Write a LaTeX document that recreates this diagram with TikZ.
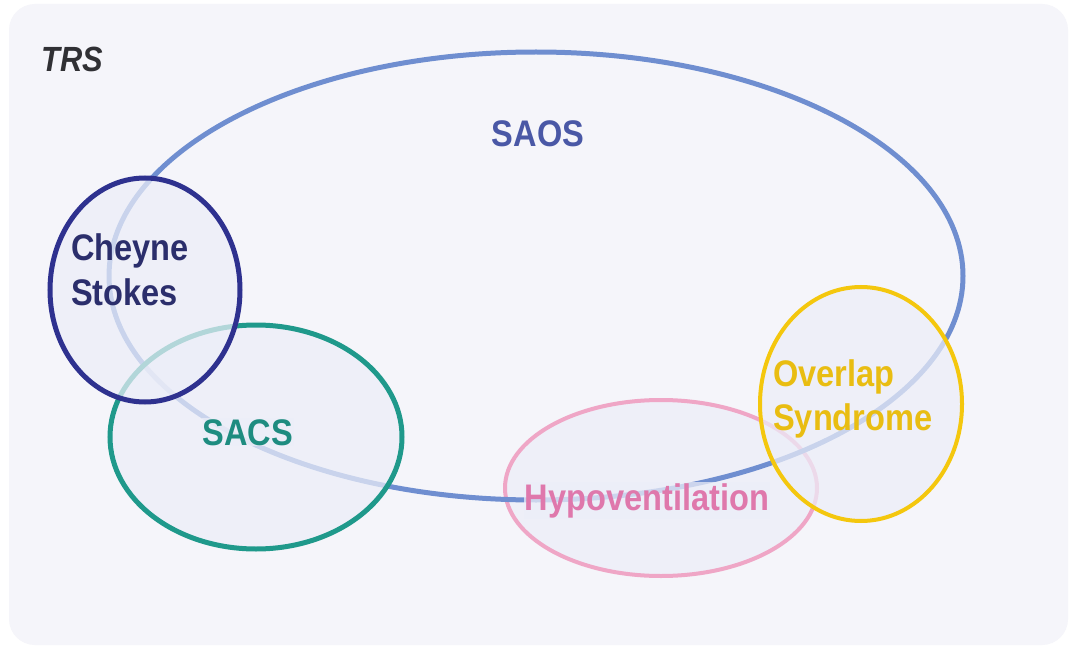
\documentclass[tikz,border=0pt]{standalone}
\usepackage{fontspec}
\setmainfont{Liberation Sans}[FakeStretch=0.88]
\usetikzlibrary{shapes.geometric}
\definecolor{bgc}{HTML}{F5F5FA}
\definecolor{inner}{HTML}{ECEEF8}
\definecolor{saosline}{HTML}{6F8ED0}
\definecolor{saostext}{HTML}{4A58A6}
\definecolor{csline}{HTML}{2E318F}
\definecolor{cstext}{HTML}{2B2E6C}
\definecolor{sacsline}{HTML}{1F998B}
\definecolor{sacstext}{HTML}{1E8C80}
\definecolor{hypoline}{HTML}{EFA6C6}
\definecolor{hypotext}{HTML}{DF78AC}
\definecolor{ovline}{HTML}{F4C70E}
\definecolor{ovtext}{HTML}{E9BD12}
\definecolor{trstext}{HTML}{303034}
\tikzset{
  setbox/.style={ellipse, inner sep=0pt, line width=#1, fill=inner, fill opacity=0.72, draw opacity=1},
  setbox/.default=4.5pt,
  lbl/.style={font=\fontsize{37}{44}\selectfont\bfseries, inner sep=1pt, fill=bgc, fill opacity=0.75, text opacity=1},
}
\begin{document}
\begin{tikzpicture}[x=1pt,y=-1pt]
\useasboundingbox (0,0) rectangle (1071,647);
\fill[white] (0,0) rectangle (1071,647);
\fill[bgc, rounded corners=26pt] (9,4) rectangle (1068,645);
% Hypoventilation (below SAOS line)
\node[setbox=4pt, draw=hypoline, minimum width=312pt, minimum height=176pt] (hypo) at (661,488) {};
% SAOS
\node[ellipse, inner sep=0pt, line width=5pt, draw=saosline, minimum width=854pt, minimum height=448pt] (saos) at (536,276) {};
% SACS
\node[setbox=5pt, draw=sacsline, minimum width=292pt, minimum height=224pt] (sacs) at (256,437) {};
% Cheyne Stokes
\node[setbox=5pt, draw=csline, minimum width=190pt, minimum height=224pt] (cs) at (145,290) {};
% Overlap
\node[setbox=4pt, draw=ovline, minimum width=202pt, minimum height=234pt] (ov) at (861,404) {};
% labels
\node[lbl, fill opacity=0, anchor=base west, text=trstext, font=\fontsize{35}{40}\selectfont\bfseries\itshape] (trs) at (40,72) {TRS};
\node[lbl, anchor=base, text=saostext] (saoslbl) at (538,147) {SAOS};
\node[lbl, anchor=base, text=sacstext, fill=inner] (sacslbl) at (248,445) {SACS};
\node[lbl, anchor=base, text=hypotext, fill=inner] (hypolbl) at (647,510) {Hypoventilation};
\node[lbl, anchor=base west, align=left, text=cstext, fill opacity=0] (cslbl) at (70,305) {Cheyne\\Stokes};
\node[lbl, anchor=base west, align=left, text=ovtext, fill opacity=0] (ovlbl) at (772,430) {Overlap\\Syndrome};
\end{tikzpicture}
\end{document}
